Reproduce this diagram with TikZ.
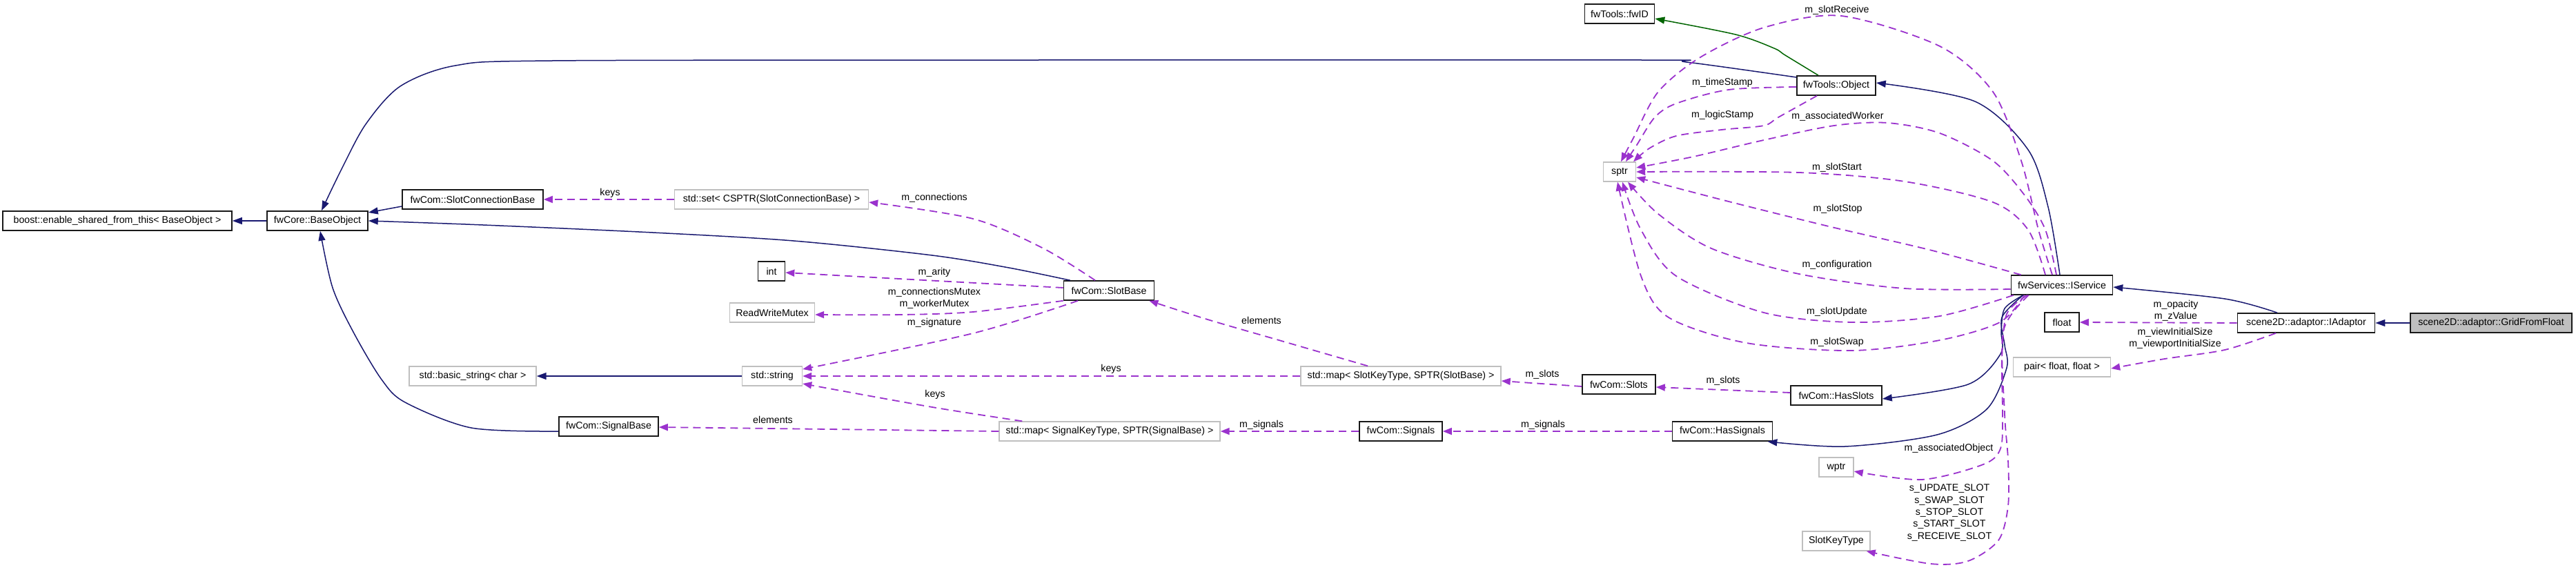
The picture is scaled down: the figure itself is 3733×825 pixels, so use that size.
\documentclass[tikz,border=0pt]{standalone}
\usepackage{fontspec}
\setmainfont{Liberation Sans}
\usetikzlibrary{arrows.meta}
\definecolor{navy}{RGB}{25,25,112}
\definecolor{purp}{RGB}{154,50,205}
\definecolor{dgreen}{RGB}{0,100,0}
\definecolor{lgray}{RGB}{191,191,191}
\begin{document}
\begin{tikzpicture}[x=1pt,y=-1pt,
  box/.style={draw=black!90, line width=1.6pt, minimum height=28pt, inner sep=0pt, fill=white, font=\fontsize{14.2}{17}\selectfont},
  gbox/.style={box, draw=lgray, line width=1.4pt},
  lbl/.style={inner sep=0pt, align=center, font=\fontsize{14.2}{17.3}\selectfont},
  inh/.style={draw=navy, line width=1.5pt, -{Triangle[length=14pt,width=10pt]}},
  use/.style={draw=purp, line width=1.8pt, dash pattern=on 11pt off 7pt, -{Triangle[length=13pt,width=10pt]}},
  grn/.style={draw=dgreen, line width=1.5pt, -{Triangle[length=14pt,width=10pt]}},
]
\useasboundingbox (0,0) rectangle (3733,825);
% nodes
\node[box, minimum width=332pt] (boost) at (170,320) {boost::enable\_shared\_from\_this< BaseObject >};
\node[box, minimum width=146pt] (base) at (460,320) {fwCore::BaseObject};
\node[box, minimum width=204pt] (scb) at (685,289) {fwCom::SlotConnectionBase};
\node[gbox, minimum width=281pt] (set) at (1118,289) {std::set< CSPTR(SlotConnectionBase) >};
\node[box, minimum width=39pt] (int) at (1118,393) {int};
\node[gbox, minimum width=123pt] (rwm) at (1119,453) {ReadWriteMutex};
\node[box, minimum width=131pt] (slotbase) at (1607,421) {fwCom::SlotBase};
\node[gbox, minimum width=184pt] (bstr) at (685,545) {std::basic\_string< char >};
\node[gbox, minimum width=87pt] (str) at (1119,545) {std::string};
\node[box, minimum width=144pt] (sigbase) at (882,618) {fwCom::SignalBase};
\node[gbox, minimum width=320pt] (mapsig) at (1608,625) {std::map< SignalKeyType, SPTR(SignalBase) >};
\node[box, minimum width=120pt] (signals) at (2030,625) {fwCom::Signals};
\node[gbox, minimum width=290pt] (mapslot) at (2030,545) {std::map< SlotKeyType, SPTR(SlotBase) >};
\node[box, minimum width=106pt] (slots) at (2346,557) {fwCom::Slots};
\node[box, minimum width=132pt] (hasslots) at (2661,573) {fwCom::HasSlots};
\node[box, minimum width=145pt] (hassig) at (2496,625) {fwCom::HasSignals};
\node[gbox, minimum width=47pt] (sptr) at (2347,249) {sptr};
\node[box, minimum width=101pt] (fwid) at (2347,20) {fwTools::fwID};
\node[box, minimum width=114pt] (obj) at (2661,124) {fwTools::Object};
\node[box, minimum width=147pt] (svc) at (2988,413) {fwServices::IService};
\node[box, minimum width=50pt] (float) at (2988,467) {float};
\node[gbox, minimum width=141pt] (pair) at (2988,532) {pair< float, float >};
\node[gbox, minimum width=50pt] (wptr) at (2661,677) {wptr};
\node[gbox, minimum width=98pt] (skt) at (2661,784) {SlotKeyType};
\node[box, minimum width=199pt] (iad) at (3342,468) {scene2D::adaptor::IAdaptor};
\node[box, minimum width=234pt, fill=lgray] (grid) at (3610,468) {scene2D::adaptor::GridFromFloat};

% inheritance (navy)
\draw[inh] (base.west) -- (boost.east);
\draw[inh] ([yshift=-10pt]scb.west) -- ([yshift=12pt]base.east);
\draw[inh] plot[smooth] coordinates {([xshift=10pt]slotbase.north west) (1462,388) (1351,370) (1150,349) (946,337) (700,326) (base.east)};
\draw[inh] plot[smooth] coordinates {([yshift=12pt]obj.west) (2444,90) (2380,87) (1500,87) (800,88) (660,95) (580,125) (530,180) (495,245) ([xshift=6pt]base.north)};
\draw[inh] plot[smooth] coordinates {([xshift=-3pt]svc.north) (2968,300) (2939,217) (2862,147) ([yshift=4pt]obj.east)};
\draw[inh] plot[smooth] coordinates {([xshift=18pt]svc.south west) (2905,447) (2900,480) (2899,513) (2852,557) ([yshift=-5pt]hasslots.east)};
\draw[inh] plot[smooth] coordinates {([xshift=18pt]svc.south west) (2901,460) (2905,500) (2908,533) (2879,593) (2807,630) (2673,647) ([xshift=-8pt]hassig.south east)};
\draw[inh] plot[smooth] coordinates {([xshift=-42pt]iad.north) (3224,433) ([yshift=-3pt]svc.east)};
\draw[inh] (grid.west) -- (iad.east);
\draw[inh] (str.west) -- (bstr.east);
\draw[inh] plot[smooth] coordinates {([yshift=-7pt]sigbase.west) (683,620) (587,583) (553,550) (513,483) (482,417) ([xshift=4pt]base.south)};

% green
\draw[grn] plot[smooth] coordinates {([xshift=-26pt]obj.north) (2587,80) (2571,70) (2515,50) ([yshift=-7pt]fwid.east)};

% usage (purple dashed)
\draw[use] (set.west) -- (scb.east);
\node[lbl] (l1) at (884,280) {keys};
\draw[use] plot[smooth] coordinates {([xshift=-20pt]slotbase.north) (1512,360) (1410,317) ([yshift=-4pt]set.east)};
\node[lbl] (l2) at (1354,287) {m\_connections};
\draw[use] ([yshift=4pt]slotbase.west) -- ([yshift=-2pt]int.east);
\node[lbl] (l3) at (1354,395) {m\_arity};
\draw[use] plot[smooth] coordinates {(slotbase.south west) (1410,452) (1308,456) ([yshift=-3pt]rwm.east)};
\node[lbl] (l4) at (1354,432) {m\_connectionsMutex\\m\_workerMutex};
\draw[use] plot[smooth] coordinates {([xshift=-45pt]slotbase.south) (1410,483) ([yshift=10pt]str.east)};
\node[lbl] (l5) at (1354,468) {m\_signature};
\draw[use] (mapslot.west) -- (str.east);
\node[lbl] (l6) at (1610,535) {keys};
\draw[use] plot[smooth] coordinates {([xshift=34pt]mapsig.north west) (1351,590) ([yshift=-11pt]str.east)};
\node[lbl] (l7) at (1355,572) {keys};
\draw[use] plot[smooth] coordinates {([xshift=-48pt]mapslot.north) (1850,492) (1750,463) ([xshift=-8pt]slotbase.south east)};
\node[lbl] (l8) at (1828,464) {elements};
\draw[use] (mapsig.west) -- ([yshift=-1pt]sigbase.east);
\node[lbl] (l9) at (1120,608) {elements};
\draw[use] (signals.west) -- (mapsig.east);
\node[lbl] (l10) at (1828,616) {m\_signals};
\draw[use] (hassig.west) -- (signals.east);
\node[lbl] (l11) at (2236,616) {m\_signals};
\draw[use] ([yshift=-3pt]slots.west) -- ([yshift=-7pt]mapslot.east);
\node[lbl] (l12) at (2235,543) {m\_slots};
\draw[use] ([yshift=4pt]hasslots.west) -- ([yshift=-4pt]slots.east);
\node[lbl] (l13) at (2497,552) {m\_slots};
\draw[use] (iad.west) -- (float.east);
\node[lbl] (l14) at (3153,450) {m\_opacity\\m\_zValue};
\draw[use] plot[smooth] coordinates {([xshift=-44pt]iad.south) (3224,507) (3137,520) ([yshift=-2pt]pair.east)};
\node[lbl] (l15) at (3152,490) {m\_viewInitialSize\\m\_viewportInitialSize};
\draw[use] plot[smooth] coordinates {([xshift=24pt]svc.south west) (2908,455) (2901,520) (2902,600) (2899,650) (2874,673) (2785,695) ([yshift=-6pt]wptr.east)};
\node[lbl] (l16) at (2824,650) {m\_associatedObject};
\draw[use] plot[smooth] coordinates {([xshift=26pt]svc.south west) (2903,480) (2905,600) (2910,667) (2910,733) (2896,783) (2852,813) (2798,817) ([xshift=-6pt]skt.south east)};
\node[lbl] (l17) at (2825,743) {s\_UPDATE\_SLOT\\s\_SWAP\_SLOT\\s\_STOP\_SLOT\\s\_START\_SLOT\\s\_RECEIVE\_SLOT};

% edges into sptr
\draw[use] plot[smooth] coordinates {([yshift=-2pt]obj.west) (2505,130) (2429,150) (2398,170) (2372,210) ([xshift=9pt]sptr.north)};
\node[lbl] (l18) at (2496,120) {m\_timeStamp};
\draw[use] plot[smooth] coordinates {([xshift=-28pt]obj.south) (2577,170) (2556,182) (2495,188) (2429,197) (2390,215) ([xshift=20pt]sptr.north)};
\node[lbl] (l19) at (2496,167) {m\_logicStamp};
\draw[use] plot[smooth] coordinates {([xshift=-14pt]svc.north) (2954,333) (2929,233) (2888,133) (2811,67) (2668,23) (2556,40) (2464,83) (2403,133) (2367,200) ([xshift=2pt]sptr.north)};
\node[lbl] (l20) at (2662,15) {m\_slotReceive};
\draw[use] plot[smooth] coordinates {([xshift=-8pt]svc.north) (2964,333) (2934,283) (2888,233) (2811,193) (2735,178) (2658,182) (2556,203) (2454,227) ([yshift=6pt]sptr.east)};
\node[lbl] (l21) at (2663,169) {m\_associatedWorker};
\draw[use] plot[smooth] coordinates {([xshift=-24pt]svc.north) (2939,333) (2888,293) (2760,263) (2607,250) (sptr.east)};
\node[lbl] (l22) at (2662,243) {m\_slotStart};
\draw[use] plot[smooth] coordinates {([xshift=15pt]svc.north west) (2800,363) (2650,328) (2505,292) ([yshift=-8pt]sptr.east)};
\node[lbl] (l23) at (2663,303) {m\_slotStop};
\draw[use] plot[smooth] coordinates {([yshift=-6pt]svc.west) (2760,418) (2607,397) (2480,360) (2403,310) ([xshift=12pt]sptr.south)};
\node[lbl] (l24) at (2662,384) {m\_configuration};
\draw[use] plot[smooth] coordinates {([xshift=4pt]svc.south west) (2811,458) (2684,467) (2556,453) (2429,400) (2378,333) ([xshift=4pt]sptr.south)};
\node[lbl] (l25) at (2662,452) {m\_slotUpdate};
\draw[use] plot[smooth] coordinates {([xshift=20pt]svc.south west) (2898,467) (2811,493) (2684,508) (2531,497) (2418,460) (2378,400) ([xshift=-3pt]sptr.south)};
\node[lbl] (l26) at (2662,496) {m\_slotSwap};
\end{tikzpicture}
\end{document}
